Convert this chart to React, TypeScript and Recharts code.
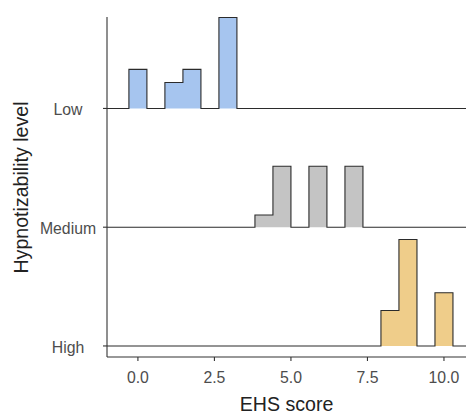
import React from 'react';
import { ComposedChart, Area, XAxis, YAxis, Label } from 'recharts';

// Groups (top to bottom)
const categories = ['Low', 'Medium', 'High'];
const groupPositions = [2, 1, 0];
const groupColors = ['#A6C5EF', '#C4C4C4', '#EFCD8A'];

// Histogram bin edges (EHS score)
const binEdges = [
  -0.294, 0.294, 0.882, 1.471, 2.059, 2.647, 3.235, 3.824, 4.412, 5.0,
  5.588, 6.176, 6.765, 7.353, 7.941, 8.529, 9.118, 9.706, 10.294,
];

// Counts per bin for each group
const lowCounts = [3, 0, 2, 3, 0, 7, 0, 0, 0, 0, 0, 0, 0, 0, 0, 0, 0, 0];
const mediumCounts = [0, 0, 0, 0, 0, 0, 0, 1, 5, 0, 5, 0, 5, 0, 0, 0, 0, 0];
const highCounts = [0, 0, 0, 0, 0, 0, 0, 0, 0, 0, 0, 0, 0, 0, 2, 6, 0, 3];

const xTicks = [0, 2.5, 5, 7.5, 10];
const xDomain = [-1.01, 10.72];
const yDomain = [-0.093, 2.77];
const ridgeScale = 1.643;

const groupCounts = [lowCounts, mediumCounts, highCounts];
const keys = ['low', 'medium', 'high'];

const rows: any[] = [];
{
  const first: any = { x: xDomain[0] };
  keys.forEach((k, g) => (first[k] = groupPositions[g]));
  rows.push(first);
  binEdges.forEach((e, i) => {
    const r: any = { x: e };
    keys.forEach((k, g) => {
      const counts = groupCounts[g];
      const n = counts.reduce((a, b) => a + b, 0);
      const c = i < counts.length ? counts[i] : 0;
      r[k] = groupPositions[g] + (c / n) * ridgeScale;
    });
    rows.push(r);
  });
  const last: any = { x: xDomain[1] };
  keys.forEach((k, g) => (last[k] = groupPositions[g]));
  rows.push(last);
}

const FONT = '"Liberation Sans", Arial, Helvetica, sans-serif';
const TICK_SIZE = 15.8;
const TITLE_SIZE = 19.6;

const YTick = (props: any) => {
  const { y, payload } = props;
  const idx = groupPositions.indexOf(payload.value);
  return (
    <text x={68} y={y} dy="0.44em" textAnchor="middle" fill="#4D4D4D" fontSize={TICK_SIZE} fontFamily={FONT}>
      {categories[idx]}
    </text>
  );
};

export default function App() {
  return (
    <div style={{ position: 'absolute', left: 0, top: 0, background: '#fff' }}>
      <ComposedChart width={466} height={414} data={rows} margin={{ top: 17, right: 0, bottom: 0, left: 0 }}>
        <XAxis
          dataKey="x"
          type="number"
          domain={xDomain}
          allowDataOverflow
          ticks={xTicks}
          tickFormatter={(v: number) => v.toFixed(1)}
          height={57}
          tickSize={4}
          tickMargin={10.5}
          axisLine={{ stroke: '#333', strokeWidth: 1.1 }}
          tickLine={{ stroke: '#333', strokeWidth: 1.1 }}
          tick={{ fill: '#4D4D4D', fontSize: TICK_SIZE, fontFamily: FONT }}
        >
          <Label value="EHS score" position="insideBottom" offset={3} fill="#222" fontSize={TITLE_SIZE} fontFamily={FONT} />
        </XAxis>
        <YAxis
          type="number"
          domain={yDomain}
          allowDataOverflow
          ticks={groupPositions}
          width={107}
          tickSize={4}
          axisLine={{ stroke: '#333', strokeWidth: 1.1 }}
          tickLine={{ stroke: '#333', strokeWidth: 1.1 }}
          tick={<YTick />}
        >
          <Label
            content={(p: any) => {
              const vb = p.viewBox || { y: 17, height: 340 };
              const cy = vb.y + vb.height / 2 + 0.5;
              const cx = 27.5;
              return (
                <text x={cx} y={cy} transform={`rotate(-90 ${cx} ${cy})`} textAnchor="middle" fill="#222" fontSize={TITLE_SIZE} fontFamily={FONT}>
                  Hypnotizability level
                </text>
              );
            }}
          />
        </YAxis>
        {keys.map((k, g) => (
          <Area
            key={k}
            dataKey={k}
            type="stepAfter"
            baseValue={groupPositions[g]}
            fill={groupColors[g]}
            fillOpacity={1}
            stroke="#2B2B2B"
            strokeWidth={1.1}
            dot={false}
            activeDot={false}
            isAnimationActive={false}
          />
        ))}
      </ComposedChart>
    </div>
  );
}
